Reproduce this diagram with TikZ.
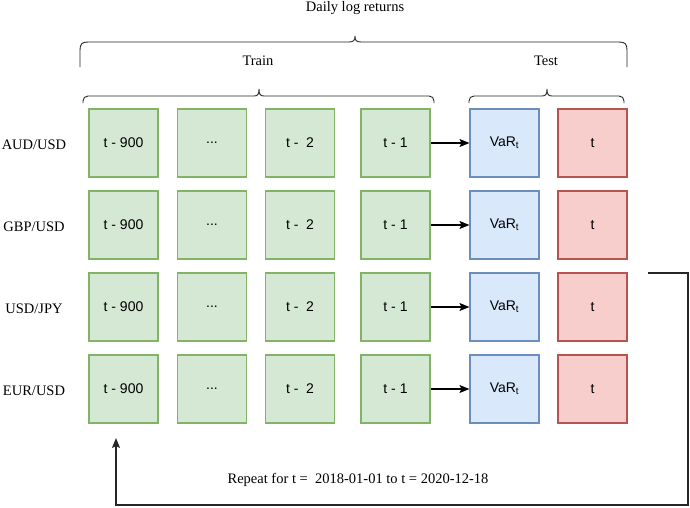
\documentclass[tikz,border=0pt]{standalone}
\usepackage{fontspec}
\setmainfont{Liberation Serif}
\setsansfont{Liberation Sans}
\usetikzlibrary{arrows.meta}
\definecolor{gfill}{HTML}{D5E8D4}
\definecolor{gdraw}{HTML}{82B366}
\definecolor{bfill}{HTML}{DAE8FC}
\definecolor{bdraw}{HTML}{6C8EBF}
\definecolor{rfill}{HTML}{F8CECC}
\definecolor{rdraw}{HTML}{B85450}
\begin{document}
\begin{tikzpicture}[x=1pt,y=-1pt,
  cell/.style={minimum width=69pt,minimum height=68pt,inner sep=0pt,line width=1.1pt,
    font=\sffamily\fontsize{14}{16}\selectfont},
  gcell/.style={cell,fill=gfill,draw=gdraw},
  bcell/.style={cell,fill=bfill,draw=bdraw},
  rcell/.style={cell,fill=rfill,draw=rdraw},
  lbl/.style={font=\fontsize{14.5}{17}\selectfont,inner sep=0pt},
  brace/.style={draw=black!85,line width=0.9pt},
  conn/.style={draw=black,line width=1.3pt,-{Stealth[length=10pt,width=8pt,inset=2pt]}},
  loopline/.style={draw=black!85,line width=1.1pt,-{Stealth[length=10pt,width=8pt,inset=2pt]}}
]
\useasboundingbox (0,0) rectangle (690,507);

% titles
\node[lbl] (daily) at (355,8) {Daily log returns};
\node[lbl] (train) at (258,61) {Train};
\node[lbl] (test) at (546,61) {Test};

% top brace
\draw[brace] (80,67) -- (80,50) .. controls (80,44) and (82,42) .. (88,42) -- (349,42)
  .. controls (354,42) and (355,40) .. (355,36) .. controls (355,40) and (356,42) .. (361,42)
  -- (619,42) .. controls (625,42) and (627,44) .. (627,50) -- (627,67);
% train brace
\draw[brace] (83,103) -- (83,101) .. controls (83,98) and (85,96) .. (88,96) -- (254,96)
  .. controls (258,96) and (259,94) .. (259,89) .. controls (259,94) and (260,96) .. (264,96)
  -- (429,96) .. controls (432,96) and (434,98) .. (434,101) -- (434,103);
% test brace
\draw[brace] (469,103) -- (469,101) .. controls (469,98) and (471,96) .. (474,96) -- (542,96)
  .. controls (546,96) and (547,94) .. (547,89) .. controls (547,94) and (548,96) .. (552,96)
  -- (619,96) .. controls (622,96) and (624,98) .. (624,101) -- (624,103);

% rows
\foreach \r/\y/\name in {1/143/AUD\slash USD,2/225/GBP\slash USD,3/307/USD\slash JPY,4/389/EUR\slash USD}{
  \node[lbl] (lab\r) at (34,\y+2) {\name};
  \node[gcell] (a\r) at (123.5,\y) {t - 900};
  \node[gcell] (b\r) at (212,\y) {...};
  \node[gcell] (c\r) at (300,\y) {t -\ \ 2};
  \node[gcell] (d\r) at (395.5,\y) {t - 1};
  \node[bcell] (v\r) at (504.5,\y) {VaR$_{\mathsf{t}}$};
  \node[rcell] (e\r) at (592.5,\y) {t};
  \draw[conn] (d\r) -- (v\r);
}

% loop
\coordinate (ls) at (648,273);
\coordinate (lc1) at (688,273);
\coordinate (lc2) at (688,505);
\coordinate (lc3) at (116,505);
\coordinate (le) at (116,438);
\draw[loopline] (ls) -- (lc1) -- (lc2) -- (lc3) -- (le);

\node[lbl] (repeat) at (358,480) {Repeat for t =\ \ 2018-01-01 to t = 2020-12-18};
\end{tikzpicture}
\end{document}
